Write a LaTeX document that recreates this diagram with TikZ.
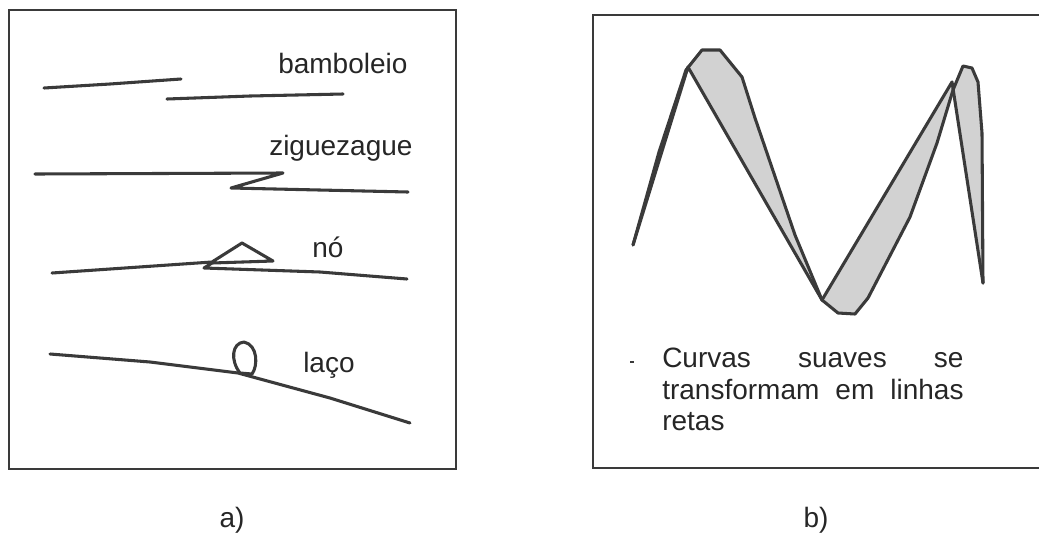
\documentclass[tikz,border=0pt]{standalone}
\usepackage{fontspec}
\setmainfont{Liberation Sans}
\definecolor{inkg}{HTML}{3A3A3A}
\definecolor{stipl}{HTML}{D2D2D2}

\begin{document}
\begin{tikzpicture}[x=0.75pt,y=-0.75pt,
  frm/.style={draw=inkg,line width=1.8pt},
  stroke/.style={draw=inkg,line width=2.3pt,line join=round,line cap=round},
  lbl/.style={anchor=base west,inner sep=0pt,text=black!85,font=\fontsize{21}{23.6}\selectfont},
  capt/.style={anchor=base,inner sep=0pt,text=black!85,font=\fontsize{21}{24}\selectfont}]
\useasboundingbox (0,0) rectangle (1039,540);
\begin{scope}
  \draw[frm] (9,10) rectangle (456,469);
  \node[lbl] (bamb) at (278,73) {bamboleio};
  \draw[stroke] (44,88) -- (110,84) -- (181,79);
  \draw[stroke] (167,99) -- (250,96) -- (343,94);
  \node[lbl] (zigz) at (269,155) {ziguezague};
  \draw[stroke] (35,174) -- (283,173) -- (231,188) -- (408,192);
  \node[lbl] (no) at (312,257) {nó};
  \draw[stroke] (52,273) -- (212,262) -- (242,243) -- (273,261) -- (212,263) -- (204,268) -- (320,272) -- (407,279);
  \node[lbl] (laco) at (303,372) {laço};
  \draw[stroke] (50,354) -- (150,362) -- (238,373) -- (330,398) -- (410,423);
  \draw[stroke] (240,373) .. controls (230,360) and (232,343) .. (244,342) .. controls (258,345) and (258,366) .. (252,374) -- cycle;
  \node[capt] (capa) at (232,527) {a)};
\end{scope}
\begin{scope}
  \draw[frm] (593,15) rectangle (1043,468);
  \fill[stipl] (688,67) -- (702,50) -- (720,50) -- (742,77) -- (755,118) -- (795,235) -- (822,300) -- cycle;
  \fill[stipl] (822,300) -- (838,313) -- (855,314) -- (868,298) -- (910,217) -- (937,143) -- (953,90) -- (963,66) -- (972,68) -- (978,82) -- (982,133) -- (983,283) -- (952,82) -- cycle;
  \draw[stroke] (633,245) -- (688,67) -- (822,300) -- (952,82) -- (983,283);
  \draw[stroke] (633,245) -- (659,152) -- (686,70) -- (702,50) -- (720,50) -- (742,77) -- (755,118) -- (795,235) -- (822,300) -- (838,313) -- (855,314) -- (868,298) -- (910,217) -- (937,143) -- (953,90) -- (963,66) -- (972,68) -- (978,82) -- (982,133) -- (983,283);
  \draw[inkg,line width=0.8pt] (630,362) -- (634,362);
  \node[lbl,anchor=north west,text width=226pt,align=left] (note) at (662,348)
    {Curvas\hfill suaves\hfill se\\ transformam\hfill em\hfill linhas\\ retas};
  \node[capt] (capb) at (816,527) {b)};
\end{scope}
\end{tikzpicture}
\end{document}
